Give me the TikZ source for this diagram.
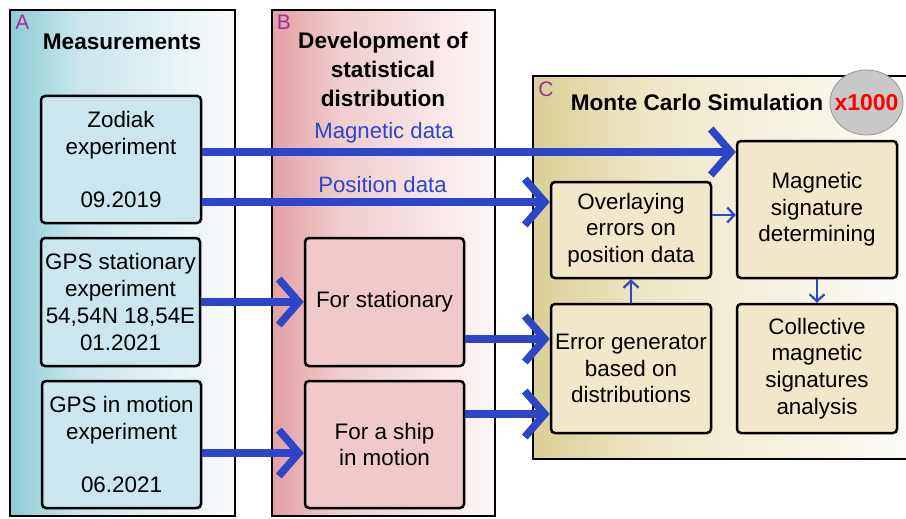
\documentclass[tikz,border=0pt]{standalone}
\usepackage{fontspec}
\setmainfont{Liberation Sans}
\usetikzlibrary{arrows.meta,shapes.geometric}
\definecolor{arrblue}{RGB}{45,70,200}
\definecolor{lblmag}{RGB}{165,45,150}
\definecolor{A0}{RGB}{142,203,212}
\definecolor{A1}{RGB}{200,230,236}
\definecolor{A2}{RGB}{250,251,252}
\definecolor{B0}{RGB}{226,160,164}
\definecolor{B1}{RGB}{240,204,206}
\definecolor{B2}{RGB}{253,247,247}
\definecolor{C0}{RGB}{218,207,150}
\definecolor{C1}{RGB}{238,231,198}
\definecolor{C2}{RGB}{253,252,249}
\definecolor{fA}{RGB}{201,231,236}
\definecolor{fB}{RGB}{242,201,203}
\definecolor{fC}{RGB}{241,232,201}
\pgfdeclarehorizontalshading{shA}{100bp}{color(0bp)=(A0); color(25bp)=(A0); color(40bp)=(A1); color(75bp)=(A2); color(100bp)=(A2)}
\pgfdeclarehorizontalshading{shB}{100bp}{color(0bp)=(B0); color(25bp)=(B0); color(40bp)=(B1); color(75bp)=(B2); color(100bp)=(B2)}
\pgfdeclarehorizontalshading{shC}{100bp}{color(0bp)=(C0); color(25bp)=(C0); color(40bp)=(C1); color(75bp)=(C2); color(100bp)=(C2)}
\begin{document}
\begin{tikzpicture}[x=1pt,y=-1pt,
  panel/.style={draw=black, line width=2.5pt},
  box/.style={draw=black, line width=2.5pt, rounded corners=4pt, align=center, inner sep=0pt,
     font=\fontsize{22.4}{26.7}\selectfont},
  boxA/.style={box, fill=fA},
  boxB/.style={box, fill=fB},
  boxC/.style={box, fill=fC},
  ptitle/.style={align=center, inner sep=0pt, font=\bfseries\fontsize{22.6}{29}\selectfont},
  plabel/.style={inner sep=0pt, text=lblmag, font=\fontsize{21}{21}\selectfont},
  dlabel/.style={inner sep=0pt, text=arrblue, font=\fontsize{22.2}{26}\selectfont},
  bigarr/.style={draw=arrblue, line width=7.5pt, -{Straight Barb[length=20pt,width=46pt]}},
  thinarr/.style={draw=arrblue, line width=2.2pt, -{Straight Barb[length=7pt,width=15pt]}}]
\useasboundingbox (0,0) rectangle (906,519);
\clip (0,0) rectangle (906,519);
% panels
\path[shading=shA, panel] (10,10) rectangle (235,516);
\path[shading=shB, panel] (272,10) rectangle (495,516);
\path[shading=shC, panel] (533,76) rectangle (915,459);
\node[plabel] (la) at (22.5,22.5) {A};
\node[plabel] (lb) at (284,22) {B};
\node[plabel] (lc) at (546,89) {C};
\node[ptitle] (ta) at (122,42) {Measurements};
\node[ptitle] (tb) at (383,69) {Development of\\statistical\\distribution};
\node[ptitle] (tc) at (697,102) {Monte Carlo Simulation};
\node[ellipse, fill={rgb,255:red,200;green,200;blue,200}, draw={rgb,255:red,150;green,150;blue,150}, line width=0.8pt,
      minimum width=73pt, minimum height=65pt, inner sep=0pt] (rep) at (866.5,102.5) {};
\node[inner sep=0pt, text=red, font=\bfseries\fontsize{23}{23}\selectfont] (reptxt) at (rep.center) {x1000};
% boxes A
\node[boxA, minimum width=160pt, minimum height=127pt] (zod) at (121,159.5) {Zodiak\\experiment\\\mbox{}\\09.2019};
\node[boxA, minimum width=159pt, minimum height=128pt] (gpss) at (120.5,302) {GPS stationary\\experiment\\54,54N 18,54E\\01.2021};
\node[boxA, minimum width=159pt, minimum height=127pt] (gpsm) at (121.5,444.5) {GPS in motion\\experiment\\\mbox{}\\06.2021};
% boxes B
\node[boxB, minimum width=159pt, minimum height=128pt] (fst) at (384.5,302) {For stationary};
\node[boxB, minimum width=159pt, minimum height=127pt] (fsh) at (384.5,444.5) {For a ship\\in motion};
% boxes C
\node[boxC, minimum width=160pt, minimum height=96pt] (ovl) at (631,230) {Overlaying\\errors on\\position data};
\node[boxC, minimum width=160pt, minimum height=137pt] (mag) at (817,209.5) {Magnetic\\signature\\determining};
\node[boxC, minimum width=160pt, minimum height=129pt] (err) at (631,368.5) {Error generator\\based on\\distributions};
\node[boxC, minimum width=160pt, minimum height=129pt] (col) at (817,368.5) {Collective\\magnetic\\signatures\\analysis};
% big arrows
\draw[bigarr] ([yshift=7.5pt]zod.east) coordinate (m1) -- (m1 -| mag.west);
\draw[bigarr] ([yshift=-42.5pt]zod.east) coordinate (p1) -- (p1 -| ovl.west);
\draw[bigarr] (gpss.east) -- (fst.west);
\draw[bigarr] ([yshift=-8.5pt]gpsm.east) coordinate (g2) -- (g2 -| fsh.west);
\draw[bigarr] ([yshift=-37pt]fst.east) coordinate (s1) -- (s1 -| err.west);
\draw[bigarr] ([yshift=30.5pt]fsh.east) coordinate (s2) -- (s2 -| err.west);
% thin arrows
\draw[thinarr] ([yshift=15pt]ovl.east) coordinate (o1) -- (o1 -| mag.west);
\draw[thinarr] (err.north) -- (ovl.south);
\draw[thinarr] (mag.south) -- (col.north);
% data labels
\node[dlabel] (lmag) at (384,133) {Magnetic data};
\node[dlabel] (lpos) at (382.5,185) {Position data};
\end{tikzpicture}
\end{document}
